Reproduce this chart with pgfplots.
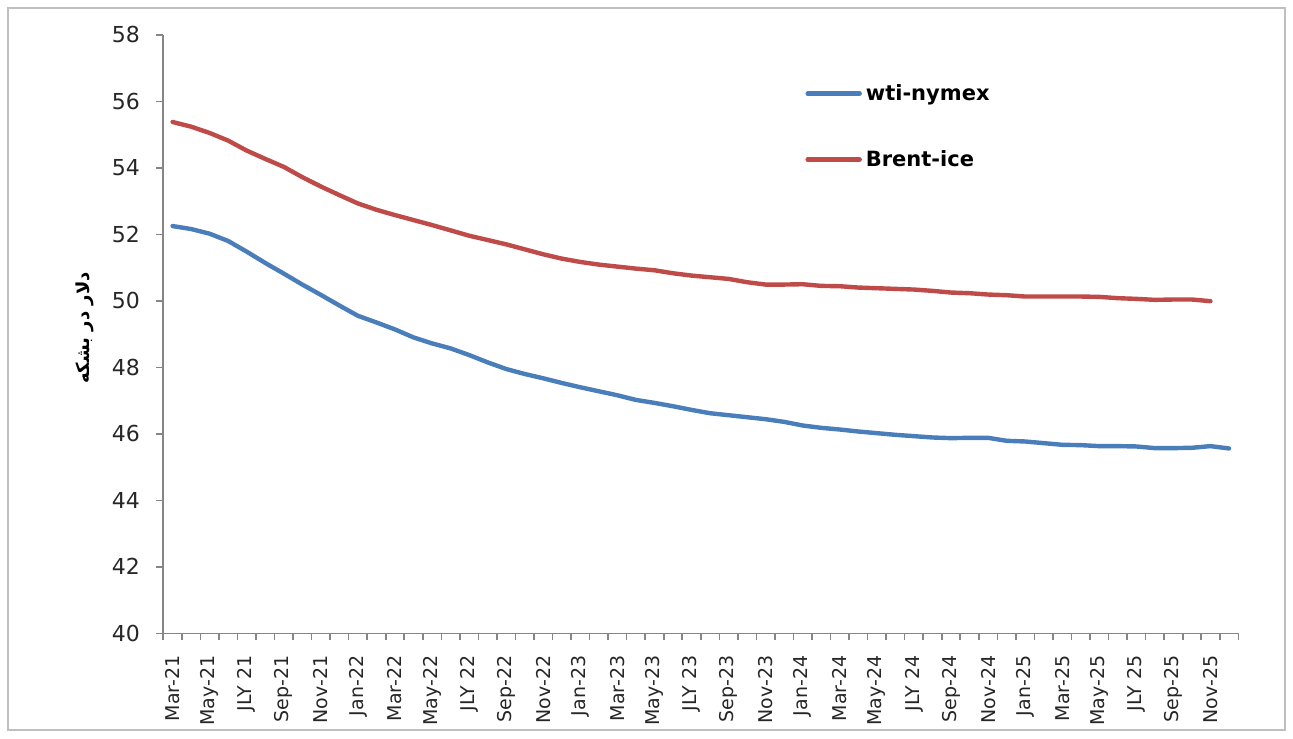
\documentclass[border=0pt]{standalone}
\usepackage{pgfplots}
\pgfplotsset{compat=1.18}
\usepackage{pgfplotstable}
\usepackage{fontspec}
\setmainfont{DejaVu Sans}
\newfontfamily\arabicfont[Script=Arabic]{DejaVu Sans}
\TeXXeTstate=1
\definecolor{wti}{HTML}{4A7EBB}
\definecolor{brent}{HTML}{BE4B48}
\definecolor{axgray}{HTML}{868686}
\definecolor{framegray}{HTML}{BFBFBF}
\definecolor{txt}{HTML}{262626}

\pgfplotstableread{
i wti
0 52.25
1 52.16
2 52.02
3 51.80
4 51.48
5 51.14
6 50.82
7 50.49
8 50.18
9 49.86
10 49.55
11 49.35
12 49.14
13 48.90
14 48.72
15 48.57
16 48.37
17 48.15
18 47.95
19 47.80
20 47.67
21 47.53
22 47.40
23 47.28
24 47.16
25 47.02
26 46.93
27 46.83
28 46.72
29 46.62
30 46.56
31 46.50
32 46.44
33 46.36
34 46.25
35 46.18
36 46.13
37 46.07
38 46.02
39 45.97
40 45.93
41 45.89
42 45.87
43 45.88
44 45.88
45 45.79
46 45.77
47 45.72
48 45.67
49 45.66
50 45.63
51 45.63
52 45.62
53 45.57
54 45.57
55 45.58
56 45.63
57 45.56
}\wtidata

\pgfplotstableread{
i brent
0 55.38
1 55.24
2 55.05
3 54.82
4 54.52
5 54.27
6 54.03
7 53.72
8 53.44
9 53.18
10 52.93
11 52.74
12 52.58
13 52.43
14 52.28
15 52.12
16 51.96
17 51.83
18 51.70
19 51.55
20 51.40
21 51.27
22 51.17
23 51.09
24 51.03
25 50.97
26 50.92
27 50.83
28 50.76
29 50.71
30 50.66
31 50.56
32 50.49
33 50.49
34 50.50
35 50.45
36 50.44
37 50.40
38 50.38
39 50.36
40 50.34
41 50.30
42 50.25
43 50.23
44 50.19
45 50.17
46 50.13
47 50.13
48 50.13
49 50.13
50 50.12
51 50.08
52 50.06
53 50.03
54 50.04
55 50.04
56 49.99
}\brentdata

\begin{document}
\begin{tikzpicture}
\begin{axis}[
  name=ax, at={(0,0)}, anchor=south west,
  scale only axis, width=537.5pt, height=299.2pt,
  xmin=-0.5, xmax=57.5, ymin=40, ymax=58,
  axis lines=left,
  axis line style={-, draw=axgray, line width=0.8pt},
  xtick={0,2,...,56},
  xticklabels={Mar-21,May-21,JLY 21,Sep-21,Nov-21,Jan-22,Mar-22,May-22,JLY 22,Sep-22,Nov-22,Jan-23,Mar-23,May-23,JLY 23,Sep-23,Nov-23,Jan-24,Mar-24,May-24,JLY 24,Sep-24,Nov-24,Jan-25,Mar-25,May-25,JLY 25,Sep-25,Nov-25},
  minor xtick={-0.5,0.5,...,57.5},
  major x tick style={draw=none},
  minor x tick style={draw=axgray, line width=0.8pt},
  tick align=outside,
  minor tick length=3.5pt, major tick length=3.5pt,
  ytick={40,42,...,58},
  y tick style={draw=axgray, line width=0.8pt},
  /pgf/number format/assume math mode=true,
  xticklabel style={rotate=90, anchor=east, inner sep=0pt, font=\fontsize{9.5}{10}\selectfont, text=txt},
  xticklabel shift=7.5pt,
  yticklabel style={inner sep=0pt, font=\fontsize{11}{13}\selectfont, text=txt},
  yticklabel shift=8pt,
  every axis y label/.style={at={(axis description cs:-0.0726,0.51)}, rotate=90, anchor=center, font=\bfseries\fontsize{9}{11}\selectfont, text=black},
  ylabel={\arabicfont\beginR دلار در بشکه\endR},
  legend style={at={(axis description cs:0.597,0.925)}, anchor=north west, draw=none, fill=none,
    font=\bfseries\fontsize{10.5}{12}\selectfont, text=black, row sep=19.5pt, inner sep=0pt,
    nodes={inner sep=2pt}},
  legend cell align=left,
  legend image code/.code={\draw[#1] (0pt,0pt) -- (26pt,0pt);},
]
\addplot[wti, line width=2.2pt, line join=round, line cap=round] table[x=i, y=wti] {\wtidata};
\addlegendentry{wti-nymex}
\addplot[brent, line width=2.2pt, line join=round, line cap=round] table[x=i, y=brent] {\brentdata};
\addlegendentry{Brent-ice}
\end{axis}
\draw[framegray, line width=0.6pt] (-77.65pt,-48.35pt) rectangle (560.85pt,312.65pt);
\pgfresetboundingbox
\path[use as bounding box] (-81.65pt,-52.35pt) rectangle (564.85pt,316.65pt);
\end{tikzpicture}
\end{document}
